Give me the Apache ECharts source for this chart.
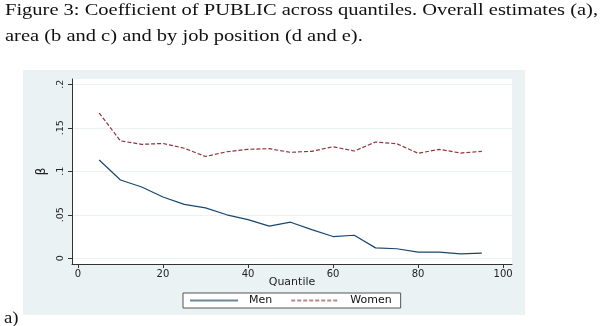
<!DOCTYPE html>
<html>
<head>
<meta charset="utf-8">
<script src="https://cdn.jsdelivr.net/npm/echarts@6/dist/echarts.min.js"></script>
<style>
  html, body { margin: 0; padding: 0; background: #ffffff; }
  #chart { width: 600px; height: 326px; }
</style>
</head>
<body>
<div id="chart"></div>
<script>
// Quantile regression coefficients of PUBLIC, by sex
const quantiles = [5, 10, 15, 20, 25, 30, 35, 40, 45, 50, 55, 60, 65, 70, 75, 80, 85, 90, 95];
const men   = [0.113, 0.090, 0.082, 0.0705, 0.062, 0.058, 0.050, 0.0445, 0.037, 0.0415, 0.033, 0.025, 0.0265, 0.012, 0.011, 0.007, 0.0072, 0.005, 0.006];
const women = [0.167, 0.135, 0.131, 0.132, 0.1265, 0.117, 0.1225, 0.1253, 0.126, 0.1218, 0.123, 0.1283, 0.1233, 0.1337, 0.1317, 0.1207, 0.1253, 0.121, 0.123];
const xTicks = [0, 20, 40, 60, 80, 100];
const yTicks = [0, 0.05, 0.1, 0.15, 0.2];
const yTickLabels = ['0', '.05', '.1', '.15', '.2'];
const captionLines = [
  'Figure 3: Coefficient of PUBLIC across quantiles. Overall estimates (a),',
  'area (b and c) and by job position (d and e).'
];

const sans = 'DejaVu Sans, Verdana, sans-serif';
const serif = 'Liberation Serif, DejaVu Serif, serif';
const captionFont = '17px ' + serif;

// Stretch the caption horizontally so the first line fills the page width
const ctx = document.createElement('canvas').getContext('2d');
ctx.font = captionFont;
const captionScale = 593 / ctx.measureText(captionLines[0]).width;

const chart = echarts.init(document.getElementById('chart'), null, { renderer: 'canvas' });

chart.setOption({
  animation: false,
  backgroundColor: 'transparent',
  graphic: [
    { type: 'rect', z: -10, shape: { x: 23, y: 70, width: 502, height: 245 },
      style: { fill: '#eaf2f3' }, silent: true },
    { type: 'text', x: 5, y: 2, scaleX: captionScale,
      style: { text: captionLines[0], font: captionFont, fill: '#111' } },
    { type: 'text', x: 5, y: 28, scaleX: captionScale,
      style: { text: captionLines[1], font: captionFont, fill: '#111' } },
    { type: 'text', x: 4, y: 310, scaleX: 1.1,
      style: { text: 'a)', font: captionFont, fill: '#111' } }
  ],
  grid: {
    left: 72, right: 88, top: 79, bottom: 62,
    show: true, backgroundColor: '#ffffff', borderWidth: 0
  },
  xAxis: {
    type: 'value', min: -1.4, max: 102.1,
    name: 'Quantile', nameLocation: 'middle', nameGap: 13, nameMoveOverlap: false,
    nameTextStyle: { fontFamily: sans, fontSize: 11, color: '#222' },
    axisLine: { show: true, onZero: false, lineStyle: { color: '#333', width: 1 } },
    axisTick: { show: true, length: 4, customValues: xTicks, lineStyle: { color: '#333' } },
    axisLabel: { customValues: xTicks, showMinLabel: true, showMaxLabel: true,
                 fontFamily: sans, fontSize: 10, color: '#222', margin: 5 },
    splitLine: { show: false }
  },
  yAxis: {
    type: 'value', min: -0.00655, max: 0.2061,
    name: 'β', nameLocation: 'middle', nameGap: 24, nameRotate: 90, nameMoveOverlap: false,
    nameTextStyle: { fontFamily: sans, fontSize: 12, color: '#222' },
    axisLine: { show: true, onZero: false, lineStyle: { color: '#333', width: 1 } },
    axisTick: { show: true, length: 4, customValues: yTicks, lineStyle: { color: '#333' } },
    axisLabel: {
      customValues: yTicks, showMinLabel: true, showMaxLabel: true,
      rotate: 90, fontFamily: sans, fontSize: 9.5, color: '#222', margin: 6,
      formatter: v => yTickLabels[yTicks.findIndex(t => Math.abs(t - v) < 1e-9)] ?? ''
    },
    splitLine: { show: true, lineStyle: { color: '#eaf2f3', width: 1 } }
  },
  legend: {
    left: 183, top: 293,
    backgroundColor: '#ffffff', borderColor: '#555', borderWidth: 1, borderRadius: 0,
    padding: [2, 9, 2, 6],
    itemWidth: 48, itemHeight: 8, itemGap: 18,
    itemStyle: { opacity: 0 },
    textStyle: { fontFamily: sans, fontSize: 11, color: '#111', padding: [0, 0, 0, 6] },
    data: [
      { name: 'Men', lineStyle: { opacity: 0.65 } },
      { name: 'Women', lineStyle: { opacity: 0.6 } }
    ]
  },
  series: [
    {
      name: 'Men', type: 'line', symbol: 'none',
      data: quantiles.map((q, i) => [q, men[i]]),
      lineStyle: { color: '#1a476f', width: 1.2 }, itemStyle: { color: '#1a476f' }
    },
    {
      name: 'Women', type: 'line', symbol: 'none',
      data: quantiles.map((q, i) => [q, women[i]]),
      lineStyle: { color: '#90353b', width: 1.2, type: [4, 2] }, itemStyle: { color: '#90353b' }
    }
  ]
});
</script>
</body>
</html>
